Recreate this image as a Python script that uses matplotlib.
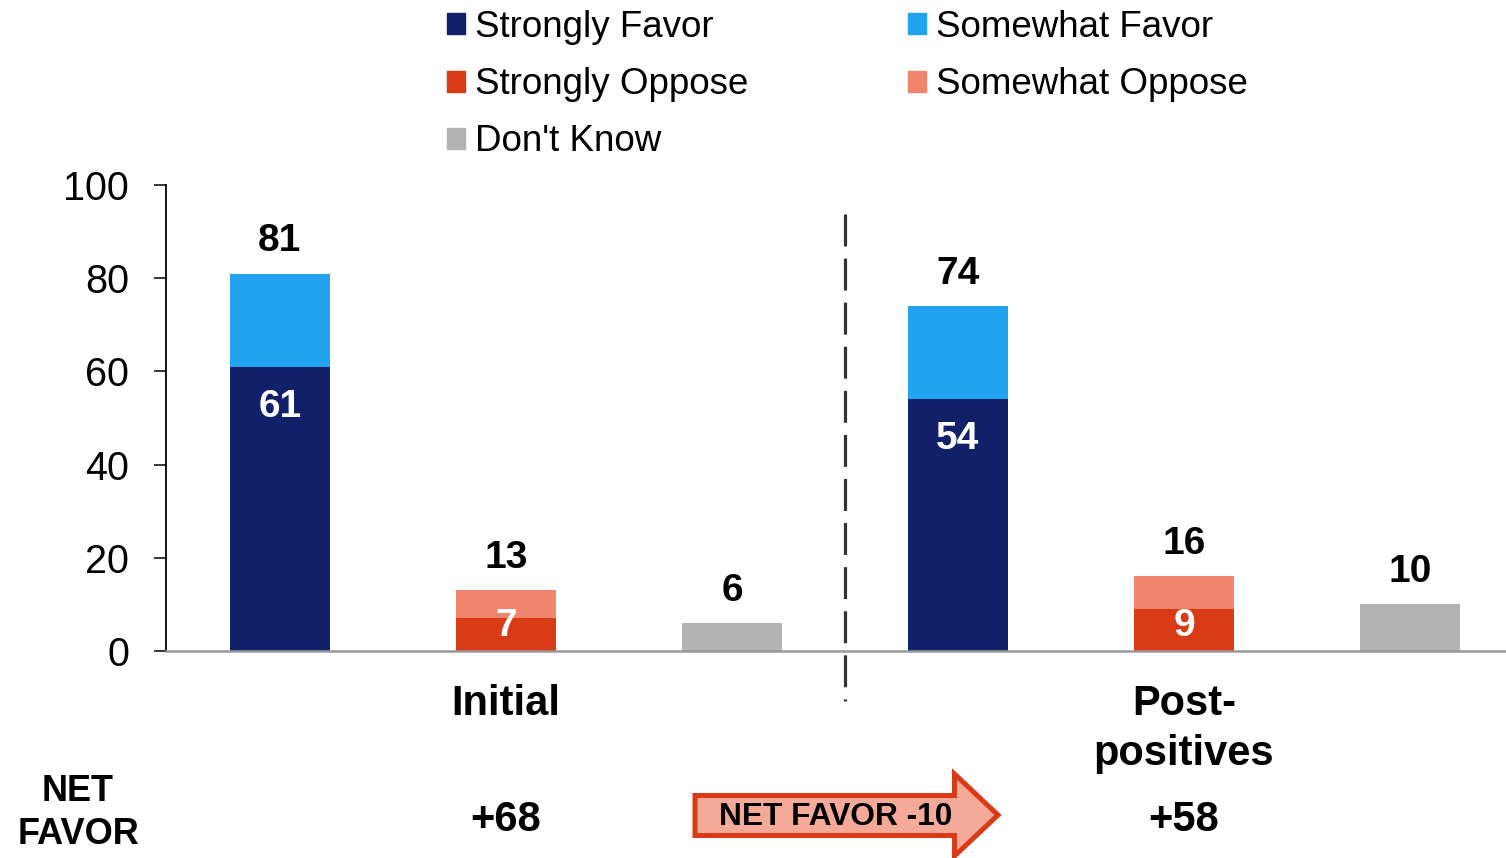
import numpy as np
import matplotlib
matplotlib.use("Agg")
import matplotlib.pyplot as plt
from matplotlib.patches import Patch, Polygon
import matplotlib.transforms as mtransforms

plt.rcParams['font.family'] = ['Liberation Sans', 'DejaVu Sans']

# data
groups = ["Initial", "Post-\npositives"]
strongly_favor = [61, 54]
somewhat_favor = [20, 20]
strongly_oppose = [7, 9]
somewhat_oppose = [6, 7]
dont_know = [6, 10]

c_sf = "#10216a"
c_swf = "#21a3f0"
c_so = "#d93b17"
c_swo = "#f0846c"
c_dk = "#b3b3b3"

fig = plt.figure(figsize=(15.06, 8.58), dpi=100)
ax = fig.add_axes([166 / 1506, 1 - 651 / 858, 1 - 166 / 1506, (651 - 185) / 858])

w = 0.442
for g in range(2):
    base = g * 3
    fav = strongly_favor[g] + somewhat_favor[g]
    opp = strongly_oppose[g] + somewhat_oppose[g]
    ax.bar(base, strongly_favor[g], w, color=c_sf)
    ax.bar(base, somewhat_favor[g], w, bottom=strongly_favor[g], color=c_swf)
    ax.bar(base + 1, strongly_oppose[g], w, color=c_so)
    ax.bar(base + 1, somewhat_oppose[g], w, bottom=strongly_oppose[g], color=c_swo)
    ax.bar(base + 2, dont_know[g], w, color=c_dk)

    # totals on top
    for xi, v in [(base, fav), (base + 1, opp), (base + 2, dont_know[g])]:
        ax.text(xi, v + 6.9, str(v), ha='center', va='center',
                fontsize=28, fontweight='bold', color='black')
    # inner labels
    for xi, v in [(base, strongly_favor[g]), (base + 1, strongly_oppose[g])]:
        ax.text(xi, max(v - 8.6, 5.4), str(v), ha='center', va='center',
                fontsize=28, fontweight='bold', color='white')

ax.set_xlim(-0.504, 5.425)
ax.set_ylim(0, 100)
ax.set_yticks([0, 20, 40, 60, 80, 100])
ax.tick_params(axis='y', labelsize=28.5, length=8.6, width=1.1, pad=18)
ax.set_xticks([1, 4], groups)
ax.tick_params(axis='x', length=0, labelsize=30, pad=24)
for lbl in ax.get_xticklabels():
    lbl.set_fontweight('bold')
    lbl.set_linespacing(1.3)

for s in ['top', 'right']:
    ax.spines[s].set_visible(False)
ax.spines['left'].set_linewidth(1.3)
ax.spines['bottom'].set_color('#999999')
ax.spines['bottom'].set_linewidth(1.8)

# divider
ax.plot([2.5, 2.5], [93.8, -10.8], color='#333333', lw=2.3,
        linestyle=(0, (10, 3.8)), clip_on=False)

# legend
handles = [Patch(color=c_sf, label='Strongly Favor'),
           Patch(color=c_so, label='Strongly Oppose'),
           Patch(color=c_dk, label="Don't Know"),
           Patch(color=c_swf, label='Somewhat Favor'),
           Patch(color=c_swo, label='Somewhat Oppose')]
fig.legend(handles=handles, ncol=2, loc='upper left',
           bbox_to_anchor=(447 / 1506, 1 - 10 / 858), frameon=False,
           fontsize=26.5, handlelength=0.5, handleheight=0.5,
           handletextpad=0.25, columnspacing=4.35, labelspacing=0.6,
           borderpad=0, borderaxespad=0)

# net favor row
trans = mtransforms.blended_transform_factory(ax.transData, fig.transFigure)
net = [strongly_favor[g] + somewhat_favor[g] - strongly_oppose[g] - somewhat_oppose[g]
       for g in range(2)]
fig.text(78 / 1506, 1 - 813 / 858, "NET\nFAVOR", ha='center', va='center',
         fontsize=26, fontweight='bold', linespacing=1.3)
for g in range(2):
    ax.text(g * 3 + 1, 1 - 820 / 858, "+%d" % net[g], transform=trans,
            ha='center', va='center', fontsize=30, fontweight='bold')

# arrow (pixel coords -> inches)
pts = np.array([[695, 795.5], [954.5, 795.5], [954.5, 774], [998, 815],
                [954.5, 856], [954.5, 835.5], [695, 835.5]])
pts_in = np.column_stack([pts[:, 0] / 100, (858 - pts[:, 1]) / 100])
arrow = Polygon(pts_in, closed=True, transform=fig.dpi_scale_trans,
                facecolor='#f5a998', edgecolor='#d93b17', lw=3.6,
                joinstyle='miter')
fig.add_artist(arrow)
fig.text(836 / 1506, 1 - 817 / 858, "NET FAVOR %d" % (net[1] - net[0]),
         ha='center', va='center', fontsize=22.8, fontweight='bold')

fig.savefig("out.png", dpi=100)
